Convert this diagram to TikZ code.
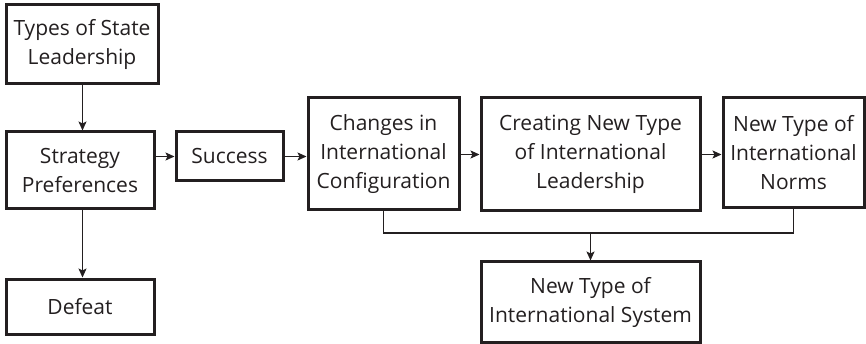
\documentclass[tikz,border=0pt]{standalone}
\usepackage{fontspec}
\setmainfont{Open Sans}
\usetikzlibrary{arrows.meta,positioning,calc}
\definecolor{ink}{HTML}{231F20}
\begin{document}
\begin{tikzpicture}[x=1pt,y=-1pt,
  box/.style={draw=ink,line width=3pt,text=ink,align=center,inner sep=0pt,
    font=\fontsize{21}{29}\selectfont},
  arr/.style={draw=ink,line width=1.4pt,-{Stealth[length=9pt,width=8pt,inset=2pt]}},
  ln/.style={draw=ink,line width=1.4pt}]
\useasboundingbox (0,0) rectangle (866,344);
\node[box,minimum width=152pt,minimum height=79pt] (lead) at (82,44.5) {Types of State\\Leadership};
\node[box,minimum width=148pt,minimum height=77pt] (strat) at (80,170.5) {Strategy\\Preferences};
\node[box,minimum width=148pt,minimum height=55pt] (defeat) at (80,306.5) {Defeat};
\node[box,minimum width=107pt,minimum height=49pt] (success) at (229.5,156.5) {Success};
\node[box,minimum width=151pt,minimum height=112pt] (changes) at (383.5,154) {Changes in\\International\\Configuration};
\node[box,minimum width=219pt,minimum height=113pt] (creating) at (590.5,154.5) {Creating New Type\\of International\\Leadership};
\node[box,minimum width=141pt,minimum height=110pt] (norms) at (793.5,153) {New Type of\\International\\Norms};
\node[box,minimum width=219pt,minimum height=80pt] (system) at (590.5,302) {New Type of\\International System};
\coordinate (bus) at (590.5,233);
\draw[arr] (lead.south -| 82.5,0) -- (strat.north -| 82.5,0);
\draw[arr] (strat.south -| 82.5,0) -- (defeat.north -| 82.5,0);
\draw[arr] (strat.east |- success.west) -- (success.west);
\draw[arr] (success.east) -- (success.east -| changes.west);
\draw[arr] (changes.east |- creating.west) -- (creating.west);
\draw[arr] (creating.east) -- (creating.east -| norms.west);
\draw[ln] (changes.south) -- (changes.south |- bus) -- (norms.south |- bus) -- (norms.south);
\draw[arr] (bus) -- (system.north);
\end{tikzpicture}
\end{document}
